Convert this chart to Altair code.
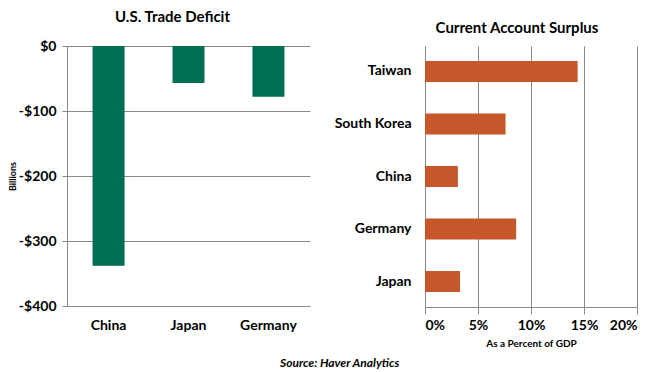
import altair as alt
import pandas as pd

deficit_countries = ["China", "Japan", "Germany"]
deficit_values = [-338, -57, -78]
surplus_countries = ["Taiwan", "South Korea", "China", "Germany", "Japan"]
surplus_values = [14.4, 7.6, 3.1, 8.6, 3.3]
deficit_ticks = [0, -100, -200, -300, -400]
surplus_ticks = [0, 5, 10, 15, 20]

FONT = "Lato"
GREEN = "#006E50"
ORANGE = "#C5572A"
GRID = "#888888"

left_df = pd.DataFrame({"country": deficit_countries, "value": deficit_values})
right_df = pd.DataFrame({"country": surplus_countries, "value": surplus_values})

left = alt.Chart(left_df).mark_bar(color=GREEN).encode(
    x=alt.X("country:N", sort=deficit_countries, title=None,
            scale=alt.Scale(paddingInner=0.6, paddingOuter=0.32),
            axis=alt.Axis(labelAngle=0, ticks=False, domain=False, grid=False,
                          labelPadding=12, labelFontSize=14, labelFont=FONT,
                          labelFontWeight="bold", labelColor="#000")),
    y=alt.Y("value:Q", title="Billions",
            scale=alt.Scale(domain=[-400, 0], nice=False),
            axis=alt.Axis(values=deficit_ticks, grid=True,
                          labelExpr="datum.value == 0 ? '$0' : '-$' + abs(datum.value)",
                          labelFontSize=14, labelFont=FONT, labelFontWeight="bold",
                          labelColor="#000", labelPadding=6, tickSize=5,
                          tickColor=GRID, domainColor=GRID, gridColor=GRID,
                          titleFont=FONT, titleFontSize=9, titleFontWeight="bold",
                          titleColor="#000", titleX=-50, titleY=130)),
).properties(width=243, height=260,
             title=alt.TitleParams("U.S. Trade Deficit", font=FONT, fontSize=15,
                                   fontWeight="bold", color="#000", dx=-16, offset=14))

right = alt.Chart(right_df).mark_bar(color=ORANGE).encode(
    y=alt.Y("country:N", sort=surplus_countries, title=None,
            scale=alt.Scale(paddingInner=0.6, paddingOuter=0.285),
            axis=alt.Axis(ticks=False, domain=True, grid=False, domainColor=GRID,
                          labelPadding=14, labelFontSize=14, labelFont=FONT,
                          labelFontWeight="bold", labelColor="#000")),
    x=alt.X("value:Q", title="As a Percent of GDP",
            scale=alt.Scale(domain=[0, 20], nice=False),
            axis=alt.Axis(values=surplus_ticks, grid=True, labelExpr="datum.value + '%'",
                          labelFontSize=14, labelFont=FONT, labelFontWeight="bold",
                          labelColor="#000", labelPadding=4, tickSize=7,
                          tickColor=GRID, domainColor=GRID, gridColor=GRID,
                          titleFont=FONT, titleFontSize=10, titleFontWeight="bold",
                          titleColor="#000", titlePadding=6)),
).properties(width=212, height=261,
             title=alt.TitleParams("Current Account Surplus", font=FONT, fontSize=15,
                                   fontWeight="bold", color="#000", dx=-14, offset=10))

chart = alt.hconcat(left, right, spacing=24).properties(
    padding={"left": 0, "top": 2, "right": 0, "bottom": 0},
    title=alt.TitleParams("Source: Haver Analytics", orient="bottom", anchor="start",
                          dx=272, font=FONT, fontSize=12, fontWeight="bold",
                          fontStyle="italic", color="#000", offset=10)
).configure_view(stroke=None)

chart.save("out.html", embed_options={"renderer": "svg", "actions": False})
